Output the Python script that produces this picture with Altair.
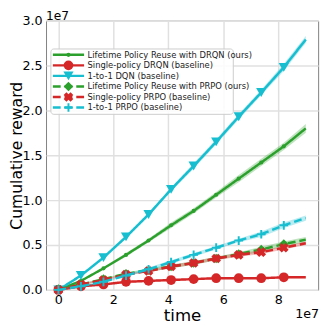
import altair as alt
import pandas as pd

# time points (units of 1e7)
time = [0.0, 0.82, 1.64, 2.46, 3.28, 4.10, 4.92, 5.74, 6.56, 7.38, 8.20, 9.0]

names = [
    "Lifetime Policy Reuse with DRQN (ours)",
    "Single-policy DRQN (baseline)",
    "1-to-1 DQN (baseline)",
    "Lifetime Policy Reuse with PRPO (ours)",
    "Single-policy PRPO (baseline)",
    "1-to-1 PRPO (baseline)",
]
colors = ["#2ca02c", "#d62728", "#17becf", "#2ca02c", "#d62728", "#17becf"]

# cumulative reward (units of 1e7)
lpr_drqn = [0.0, 0.10, 0.24, 0.39, 0.55, 0.72, 0.88, 1.06, 1.24, 1.42, 1.60, 1.80]
single_drqn = [0.0, 0.04, 0.06, 0.09, 0.10, 0.11, 0.12, 0.13, 0.13, 0.13, 0.14, 0.14]
dqn_1to1 = [0.0, 0.16, 0.36, 0.59, 0.84, 1.12, 1.38, 1.65, 1.93, 2.20, 2.48, 2.79]
lpr_prpo = [0.01, 0.06, 0.12, 0.18, 0.22, 0.26, 0.30, 0.35, 0.40, 0.45, 0.51, 0.56]
single_prpo = [0.0, 0.06, 0.11, 0.17, 0.21, 0.26, 0.30, 0.35, 0.39, 0.42, 0.47, 0.52]
prpo_1to1 = [0.0, 0.04, 0.09, 0.16, 0.23, 0.31, 0.39, 0.47, 0.55, 0.62, 0.72, 0.80]

# half-width of the shaded band (units of 1e7)
spread_lpr_drqn = [0.0, 0.01, 0.01, 0.02, 0.02, 0.03, 0.03, 0.03, 0.04, 0.04, 0.04, 0.05]
spread_single_drqn = [0.0, 0.01, 0.01, 0.01, 0.01, 0.01, 0.01, 0.01, 0.01, 0.01, 0.01, 0.01]
spread_dqn_1to1 = [0.0, 0.01, 0.01, 0.02, 0.02, 0.02, 0.03, 0.03, 0.03, 0.03, 0.04, 0.04]
spread_lpr_prpo = [0.0, 0.01, 0.01, 0.01, 0.02, 0.02, 0.02, 0.02, 0.02, 0.03, 0.03, 0.03]
spread_single_prpo = [0.0, 0.01, 0.01, 0.01, 0.01, 0.02, 0.02, 0.02, 0.02, 0.02, 0.02, 0.02]
spread_prpo_1to1 = [0.0, 0.01, 0.01, 0.01, 0.02, 0.02, 0.02, 0.02, 0.02, 0.03, 0.03, 0.03]

values = [lpr_drqn, single_drqn, dqn_1to1, lpr_prpo, single_prpo, prpo_1to1]
spreads = [spread_lpr_drqn, spread_single_drqn, spread_dqn_1to1,
           spread_lpr_prpo, spread_single_prpo, spread_prpo_1to1]

# marker styles: (shape, size, filled, angle)
PLUS = "M-1,0L1,0M0,-1L0,1"
markers = [
    ("circle", 18, True, 0),
    ("circle", 100, True, 0),
    ("triangle-down", 110, True, 0),
    ("diamond", 95, True, 0),
    ("cross", 100, True, 45),
    (PLUS, 80, False, 0),
]
dashes = [[1, 0], [1, 0], [1, 0], [8, 4], [8, 4], [8, 4]]

W, H = 279, 276
font = "DejaVu Sans"

xs = alt.Scale(domain=[-0.45, 9.45], nice=False, zero=False)
ys = alt.Scale(domain=[0, 3.0], nice=False)
xaxis = alt.Axis(values=[0, 2, 4, 6, 8], format="d", title="time", grid=True)
yaxis = alt.Axis(values=[0, 0.5, 1.0, 1.5, 2.0, 2.5, 3.0], format=".1f",
                 title="Cumulative reward", grid=True,
                 titleX=-25, titleY=H / 2, titleAngle=270,
                 titleAlign="center", titleBaseline="alphabetic",
                 titleFontSize=16)

layers = []
for i, name in enumerate(names):
    df = pd.DataFrame({
        "t": time,
        "v": values[i],
        "lo": [a - b for a, b in zip(values[i], spreads[i])],
        "hi": [a + b for a, b in zip(values[i], spreads[i])],
    })
    col = colors[i]
    band = alt.Chart(df).mark_area(color=col, opacity=0.3).encode(
        x=alt.X("t:Q", scale=xs, axis=xaxis),
        y=alt.Y("lo:Q", scale=ys, axis=yaxis),
        y2="hi:Q",
    )
    line = alt.Chart(df).mark_line(color=col, strokeWidth=2.5,
                                   strokeDash=dashes[i]).encode(
        x=alt.X("t:Q", scale=xs), y=alt.Y("v:Q", scale=ys))
    shape, size, filled, ang = markers[i]
    pts = alt.Chart(df.iloc[:-1]).mark_point(
        shape=shape, size=size, filled=filled, color=col, angle=ang,
        opacity=1, strokeWidth=2 if not filled else 0.5,
    ).encode(x=alt.X("t:Q", scale=xs), y=alt.Y("v:Q", scale=ys))
    layers += [band, line, pts]

# legend (layout in pixels)
leg = pd.DataFrame({"name": names, "row": list(range(6)), "color": colors})
leg["py"] = 35 + leg["row"] * 10.8
box = alt.Chart(pd.DataFrame({"a": [0]})).mark_rect(
    fill="white", fillOpacity=0.85, stroke="#cccccc", strokeWidth=1,
    cornerRadius=3).encode(
    x=alt.value(5), x2=alt.value(192), y=alt.value(29), y2=alt.value(96))
layers.append(box)
for i, name in enumerate(names):
    sub = leg.iloc[[i]]
    layers.append(alt.Chart(sub).mark_rule(
        color=colors[i], strokeWidth=2.5, strokeDash=dashes[i]).encode(
        x=alt.value(7), x2=alt.value(39), y=alt.Y("py:Q", scale=None)))
    shape, size, filled, ang = markers[i]
    layers.append(alt.Chart(sub).mark_point(
        shape=shape, size=size, filled=filled, color=colors[i], angle=ang,
        opacity=1, strokeWidth=2 if not filled else 0.5).encode(
        x=alt.value(23), y=alt.Y("py:Q", scale=None)))
    layers.append(alt.Chart(sub).mark_text(
        align="left", baseline="middle", font=font, fontSize=8.6,
        color="#222222").encode(
        x=alt.value(42.5), y=alt.Y("py:Q", scale=None), text="name:N"))

# offset texts
off = pd.DataFrame({"lab": ["1e7"]})
layers.append(alt.Chart(off).mark_text(
    align="left", baseline="alphabetic", font=font, fontSize=12.5, color="black"
).encode(x=alt.value(0), y=alt.value(-0.5), text="lab:N"))
layers.append(alt.Chart(off).mark_text(
    align="right", baseline="alphabetic", font=font, fontSize=13, color="black"
).encode(x=alt.value(W + 1), y=alt.value(H + 29), text="lab:N"))

chart = alt.layer(*layers).properties(
    width=W, height=H,
    autosize=alt.AutoSizeParams(type="none"),
    padding={"left": 39, "top": 9, "right": 6, "bottom": 32},
).configure_view(
    stroke="#808080", strokeWidth=1, fill="white"
).configure_axis(
    labelFont=font, titleFont=font, labelFontSize=13, titleFontSize=17,
    labelColor="black", titleColor="black", titleFontWeight="normal",
    gridColor="#e0e0e0", gridWidth=1.5, domain=False, ticks=False,
    labelPadding=4,
).configure_axisX(titlePadding=1)

chart.save("out.html", embed_options={"renderer": "svg", "actions": False})
